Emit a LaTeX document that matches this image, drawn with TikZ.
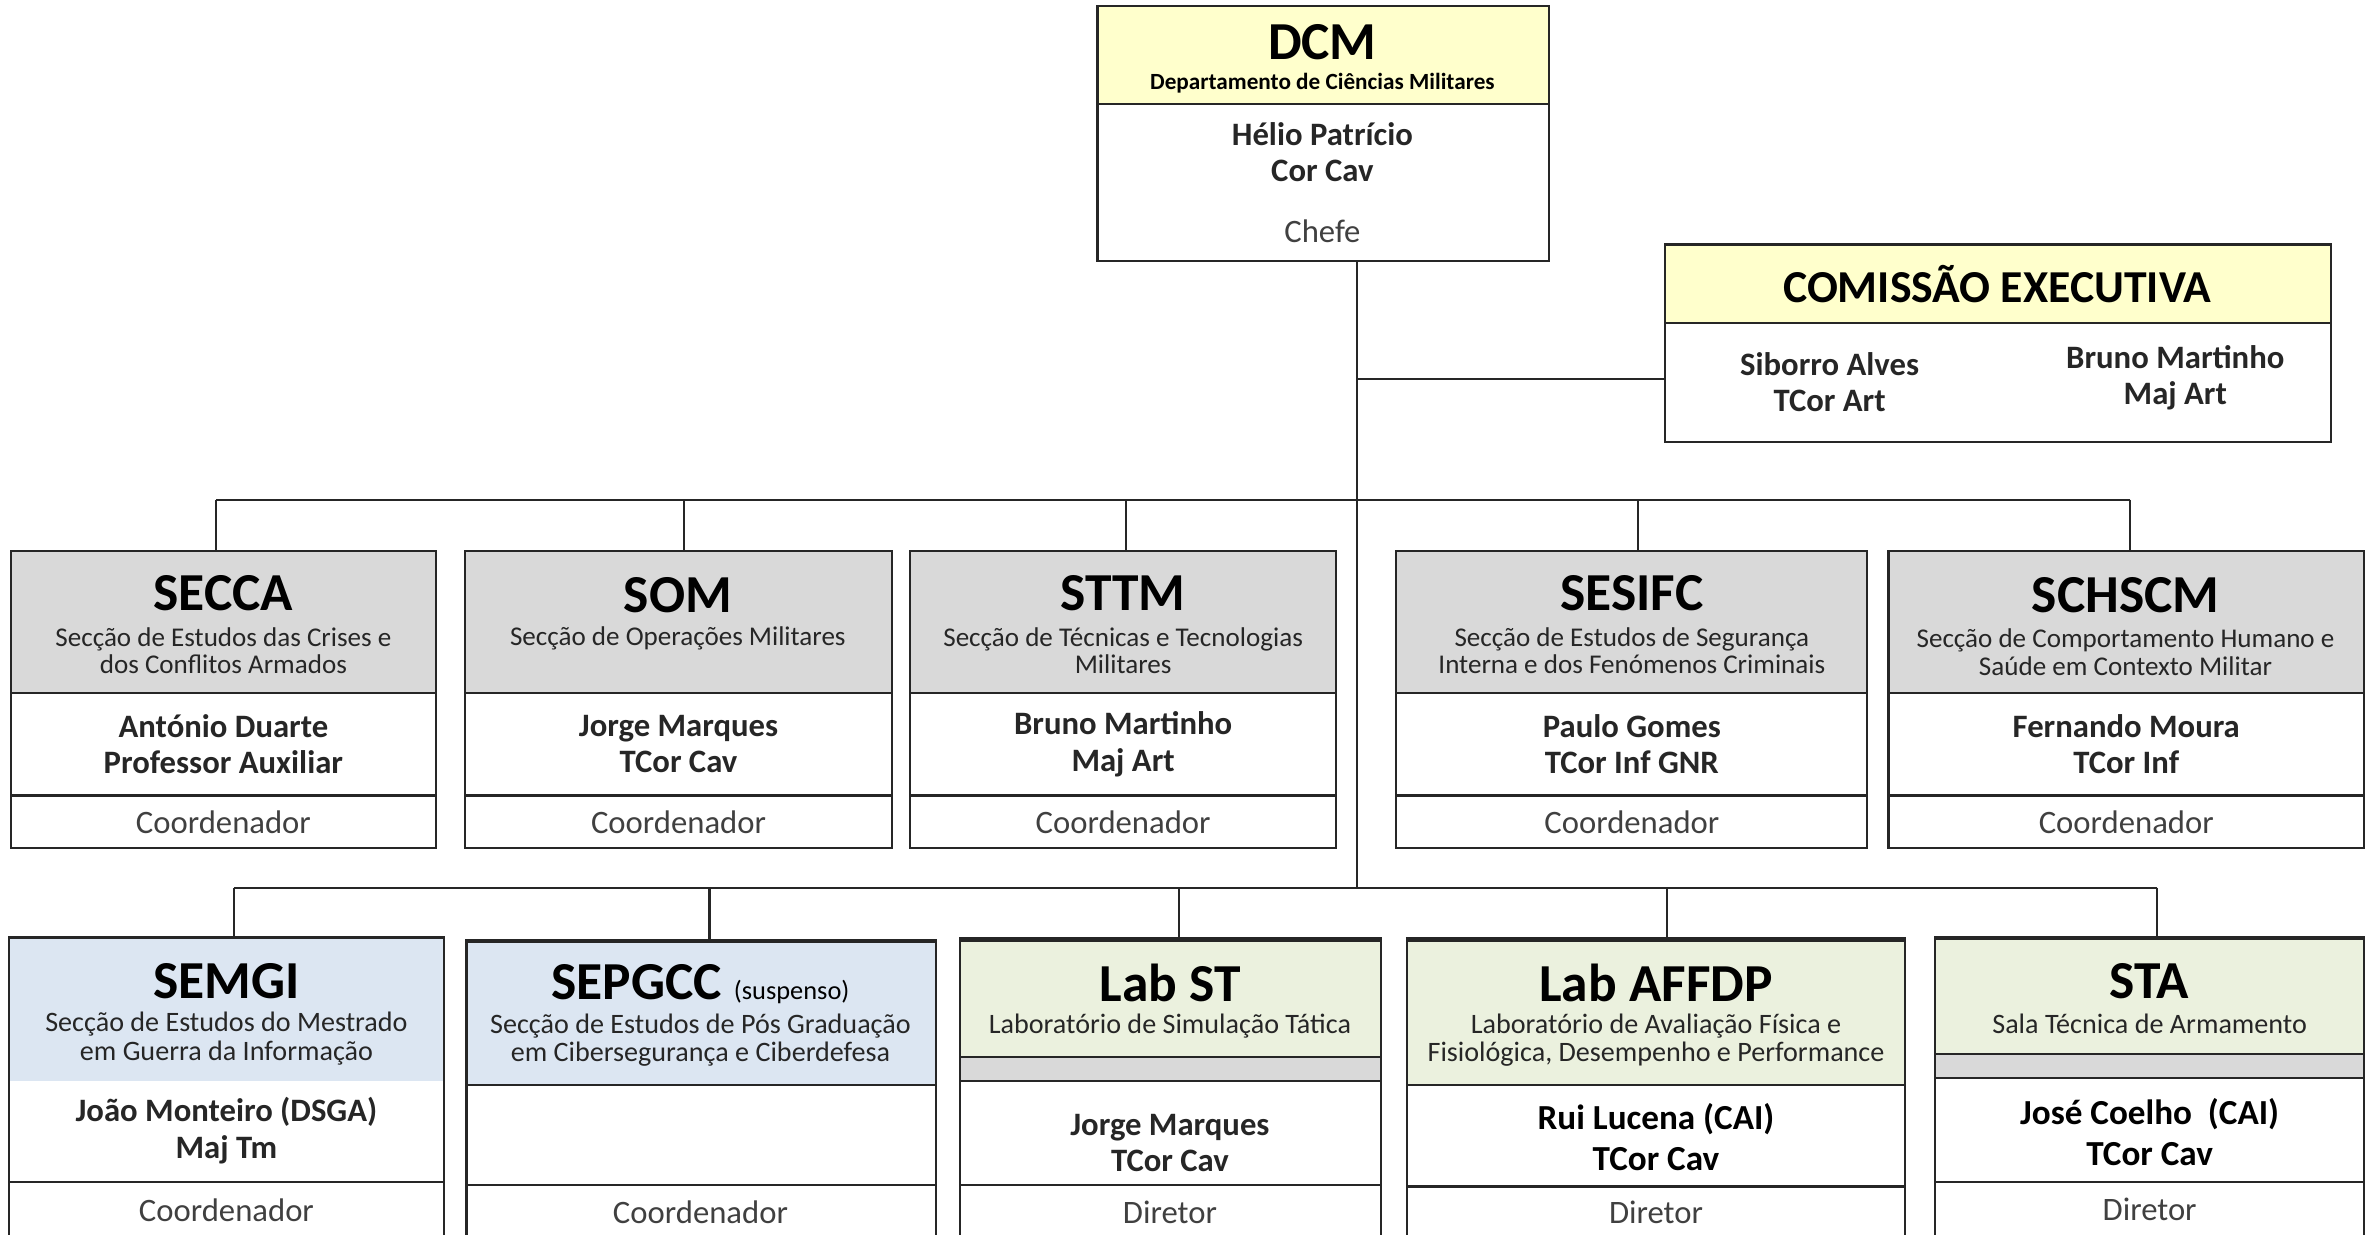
\documentclass[tikz,border=0pt]{standalone}
\usepackage{fontspec}
\setmainfont{Carlito}
\usetikzlibrary{fit}
\definecolor{hdyellow}{HTML}{FFFFCC}
\definecolor{hdgray}{HTML}{D9D9D9}
\definecolor{hdblue}{HTML}{DCE6F2}
\definecolor{hdgreen}{HTML}{EBF1DE}
\definecolor{ln}{HTML}{262626}
\begin{document}
\begin{tikzpicture}[x=0.015096cm,y=-0.015096cm,
  box/.style={draw=ln,line width=0.6pt,inner sep=0pt},
  con/.style={draw=ln,line width=0.6pt},
  ttl/.style={inner sep=0pt,font=\fontsize{15.2}{18}\selectfont\bfseries},
  dsub/.style={inner sep=0pt,font=\fontsize{6.6}{8}\selectfont\bfseries},
  sub/.style={inner sep=0pt,align=center,text=ln,font=\fontsize{7.7}{7.9}\selectfont},
  subb/.style={inner sep=0pt,align=center,text=ln,font=\fontsize{8}{8.1}\selectfont},
  nm/.style={inner sep=0pt,align=center,text=ln,font=\fontsize{9.3}{10.3}\selectfont\bfseries},
  nmb/.style={inner sep=0pt,align=center,font=\fontsize{10}{11.6}\selectfont\bfseries},
  role/.style={inner sep=0pt,text=black!75,font=\fontsize{9.3}{11}\selectfont}]
\path[use as bounding box,clip](0,0)rectangle(1568,818);
% DCM
\node[box,fill=hdyellow,fit={(727,4)(1026,69)}](dcm){};
\node[box,fit={(727,69)(1026,173)}](dcm-b){};
\node[ttl](dcm-t)at(876,28){DCM};
\node[dsub](dcm-s)at(876,55){Departamento de Ciências Militares};
\node[nm](dcm-n)at(876,101){Hélio Patrício\\Cor Cav};
\node[role](dcm-r)at(876,153){Chefe};
% comissao
\node[box,fill=hdyellow,fit={(1103,162)(1544,214)}](ce){};
\node[box,fit={(1103,214)(1544,293)}](ce-b){};
\node[inner sep=0pt,font=\fontsize{13}{16}\selectfont\bfseries](ce-t)at(1323,188){COMISSÃO EXECUTIVA};
\node[nm](ce-n1)at(1212,253){Siborro Alves\\TCor Art};
\node[nm](ce-n2)at(1441,250){Bruno Martinho\\Maj Art};
% seccoes
\foreach \a/\b/\n in {7/289/secca,308/591/som,603/885/sttm,925/1237/sesifc,1251/1566/schscm}{
  \node[box,fill=hdgray,fit={(\a,365)(\b,459)}](\n){};
  \node[box,fit={(\a,459)(\b,527)}](\n-n){};
  \node[box,fit={(\a,527)(\b,562)}](\n-r){};
  \node[role](\n-c)at(\n-r){Coordenador};
}
\node[ttl](secca-t)at(148,393){SECCA};
\node[sub](secca-s)at(148,431){Secção de Estudos das Crises e\\dos Conflitos Armados};
\node[nm](secca-p)at(secca-n){António Duarte\\Professor Auxiliar};
\node[ttl](som-t)at(449,394){SOM};
\node[sub](som-s)at(449,423){Secção de Operações Militares};
\node[nm](som-p)at(som-n){Jorge Marques\\TCor Cav};
\node[ttl](sttm-t)at(744,393){STTM};
\node[sub](sttm-s)at(744,431){Secção de Técnicas e Tecnologias\\Militares};
\node[nm](sttm-p)at(sttm-n){Bruno Martinho\\Maj Art};
\node[ttl](sesifc-t)at(1081,393){SESIFC};
\node[sub](sesifc-s)at(1081,431){Secção de Estudos de Segurança\\Interna e dos Fenómenos Criminais};
\node[nm](sesifc-p)at(sesifc-n){Paulo Gomes\\TCor Inf GNR};
\node[ttl](schscm-t)at(1408,394){SCHSCM};
\node[sub](schscm-s)at(1408,432){Secção de Comportamento Humano e\\Saúde em Contexto Militar};
\node[nm](schscm-p)at(schscm-n){Fernando Moura\\TCor Inf};
% mestrados e laboratorios
\node[fill=hdblue,inner sep=0pt,fit={(6,621)(294,716)}](semgi-h){};
\node[box,fit={(6,621)(294,825)}](semgi){};
\node[box,fit={(6,783)(294,825)}](semgi-r){};
\node[box,fill=hdblue,fit={(309,624)(620,719)}](sepgcc){};
\node[box,fit={(309,719)(620,785)}](sepgcc-n){};
\node[box,fit={(309,785)(620,825)}](sepgcc-r){};
\node[box,fill=hdgreen,fit={(636,623)(915,700)}](labst){};
\node[box,fill=hdgray,fit={(636,700)(915,716)}](labst-g){};
\node[box,fit={(636,716)(915,785)}](labst-n){};
\node[box,fit={(636,785)(915,825)}](labst-r){};
\node[box,fill=hdgreen,fit={(932,623)(1262,719)}](affdp){};
\node[box,fit={(932,719)(1262,786)}](affdp-n){};
\node[box,fit={(932,786)(1262,825)}](affdp-r){};
\node[box,fill=hdgreen,fit={(1282,622)(1566,698)}](sta){};
\node[box,fill=hdgray,fit={(1282,698)(1566,714)}](sta-g){};
\node[box,fit={(1282,714)(1566,783)}](sta-n){};
\node[box,fit={(1282,783)(1566,825)}](sta-r){};
\foreach \n in {sepgcc,labst,affdp}
  \draw[ln,line width=1.3pt](\n.north west)--(\n.north east);
\draw[ln,line width=0.9pt](sta.north west)--(sta.north east);
\node[ttl](semgi-t)at(150,650){SEMGI};
\node[subb](semgi-s)at(150,688){Secção de Estudos do Mestrado\\em Guerra da Informação};
\node[nm](semgi-p)at(150,749){João Monteiro (DSGA)\\Maj Tm};
\node[role](semgi-c)at(150,802){Coordenador};
\node[ttl,anchor=base](sepgcc-t)at(464,662){SEPGCC {\fontsize{7.5}{9}\selectfont\mdseries (suspenso)}};
\node[subb](sepgcc-s)at(464,689){Secção de Estudos de Pós Graduação\\em Cibersegurança e Ciberdefesa};
\node[role](sepgcc-c)at(464,803){Coordenador};
\node[ttl](labst-t)at(775,651){Lab ST};
\node[subb](labst-s)at(775,680){Laboratório de Simulação Tática};
\node[nm](labst-p)at(775,757){Jorge Marques\\TCor Cav};
\node[role](labst-c)at(775,803){Diretor};
\node[ttl](affdp-t)at(1097,651){Lab AFFDP};
\node[subb](affdp-s)at(1097,689){Laboratório de Avaliação Física e\\Fisiológica, Desempenho e Performance};
\node[nmb](affdp-p)at(1097,753){Rui Lucena (CAI)\\TCor Cav};
\node[role](affdp-c)at(1097,803){Diretor};
\node[ttl](sta-t)at(1424,650){STA};
\node[subb](sta-s)at(1424,678){Sala Técnica de Armamento};
\node[nmb](sta-p)at(1424,750){José Coelho\ \ (CAI)\\TCor Cav};
\node[role](sta-c)at(1424,801){Diretor};
% ligacoes
\coordinate(cej)at(899,251);
\coordinate(bus2)at(899,588);
\coordinate(b1w)at(143,331);
\coordinate(b1e)at(1411,331);
\coordinate(b2w)at(155,588);
\coordinate(b2e)at(1429,588);
\draw[con](899,0|-dcm-b.south)--(bus2);
\draw[con](cej)--(cej-|ce-b.west);
\draw[con](b1w)--(b1e);
\foreach \x/\n in {143/secca,453/som,746/sttm,1085/sesifc,1411/schscm}
  \draw[con](\x,331)--(\x,331|-\n.north);
\draw[con](b2w)--(b2e);
\foreach \x/\n in {155/semgi,470/sepgcc,781/labst,1104/affdp,1429/sta}
  \draw[con](\x,588)--(\x,588|-\n.north);
\end{tikzpicture}
\end{document}
